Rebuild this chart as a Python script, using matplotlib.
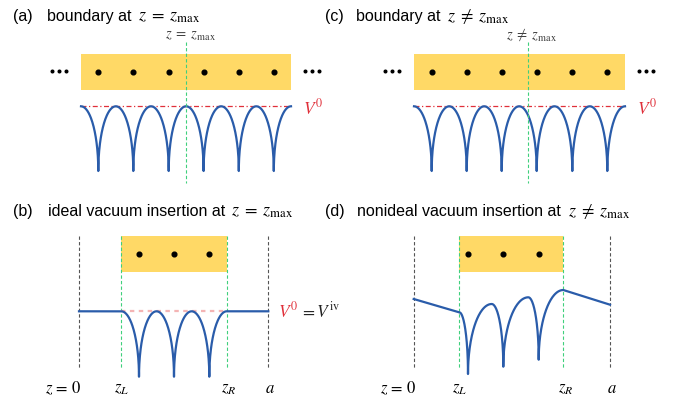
import numpy as np
import matplotlib
matplotlib.use('Agg')
import matplotlib.pyplot as plt
from matplotlib.patches import Rectangle

plt.rcParams['font.family'] = ['Liberation Sans', 'DejaVu Sans']
plt.rcParams['mathtext.fontset'] = 'stix'

# panel (a): periodic slab, boundary at z = zmax
a_slab = [81, 291]
a_atoms = [98.3, 133.3, 168.7, 203.6, 238.8, 273.8]
a_cut = 186.3
# panel (c): periodic slab, boundary elsewhere
c_slab = [414, 625]
c_atoms = [431.7, 466.7, 501.7, 536.7, 572.3, 607.3]
c_cut = 527.7
row1_level = 107.3
row1_bottom = 172.0

# panel (b): ideal vacuum insertion
b_walls = [79, 268.3]          # z = 0, a
b_slab = [121.3, 226.7]        # zL, zR
b_atoms = [139, 174, 209.3]
b_level = 312.3
b_bottom = 377.7

# panel (d): nonideal vacuum insertion
d_walls = [413.7, 610]
d_slab = [459.3, 563.3]
d_atoms = [468, 503.3, 538.7]
d_edge_y = [300, 305.7]               # potential at z = 0 and z = a
d_peak_x = [459.3, 491.7, 528.3, 563.3]
d_peak_y = [313.3, 305, 298.3, 291]
d_cusp_y = [375, 367.7, 360.7]

titles = [('(a)', 'boundary at', r'$z\;=\;z_{\mathrm{max}}$', 13, 47, 137.5, 20.7),
          ('(c)', 'boundary at', r'$z\;\neq\;z_{\mathrm{max}}$', 325, 356, 447, 20.7),
          ('(b)', 'ideal vacuum insertion at', r'$z\;=\;z_{\mathrm{max}}$', 13, 48, 231, 215.7),
          ('(d)', 'nonideal vacuum insertion at', r'$z\;\neq\;z_{\mathrm{max}}$', 325, 357, 568, 215.7)]

blue = '#2a5caa'
yellow = '#ffd966'
green = '#3fd07c'
red = '#e0303a'


def arches(px, py, cx, cy, n=80):
    xs, ys = [], []
    t = np.linspace(0, np.pi / 2, n)
    for i in range(len(cx)):
        xs += list(px[i] + (cx[i] - px[i]) * np.sin(t))
        ys += list(py[i] + (cy[i] - py[i]) * (1 - np.cos(t)))
        xs += list(px[i + 1] + (cx[i] - px[i + 1]) * np.sin(t[::-1]))
        ys += list(py[i + 1] + (cy[i] - py[i + 1]) * (1 - np.cos(t[::-1])))
    return xs, ys


fig = plt.figure(figsize=(6.73, 4.02), dpi=100)
ax = fig.add_axes([0, 0, 1, 1])
ax.set_xlim(0, 673)
ax.set_ylim(402, 0)
ax.axis('off')

for tag, words, math, x_tag, x_words, x_math, y in titles:
    ax.text(x_tag, y, tag, fontsize=11.5, va='baseline', ha='left')
    ax.text(x_words, y, words, fontsize=11.5, va='baseline', ha='left')
    ax.text(x_math, y, math, fontsize=13, va='baseline', ha='left')

# top row
for slab, atoms, cut, lab in [(a_slab, a_atoms, a_cut, r'$z\;=\;z_{\mathrm{max}}$'),
                              (c_slab, c_atoms, c_cut, r'$z\;\neq\;z_{\mathrm{max}}$')]:
    ax.add_patch(Rectangle((slab[0], 55), slab[1] - slab[0], 35.7,
                           facecolor=yellow, edgecolor='none', zorder=1))
    ax.plot(atoms, [72.7] * len(atoms), 'o', color='black', ms=3.4, zorder=3)
    for x0 in [slab[0] - 22, slab[1] + 21]:
        ax.plot([x0 - 7.2, x0, x0 + 7.2], [71.5] * 3, 'o', color='black', ms=1.9, zorder=3)
    mids = [(atoms[i] + atoms[i + 1]) / 2 for i in range(len(atoms) - 1)]
    px = [slab[0]] + mids + [slab[1]]
    xs, ys = arches(px, [row1_level] * len(px), atoms, [row1_bottom] * len(atoms))
    ax.plot(xs, ys, color=blue, lw=1.6, zorder=4)
    ax.plot(slab, [row1_level] * 2, color=red, lw=0.9, ls=(0, (4, 2, 1, 2)), zorder=2)
    ax.plot([cut, cut], [43, 184], color=green, lw=0.8, ls=(0, (3, 2)), zorder=5)
    ax.text(cut + 4, 39, lab, fontsize=10.5, color='#404040', ha='center', va='baseline')
    ax.text(slab[1] + 12, 114, r'$V^0$', fontsize=12.5, color=red, ha='left', va='baseline')

# bottom row
lab_y = 393
for walls, slab, atoms in [(b_walls, b_slab, b_atoms), (d_walls, d_slab, d_atoms)]:
    ax.add_patch(Rectangle((slab[0], 236.7), slab[1] - slab[0], 36,
                           facecolor=yellow, edgecolor='none', zorder=1))
    ax.plot(atoms, [255] * len(atoms), 'o', color='black', ms=3.4, zorder=3)
    for x in walls:
        ax.plot([x, x], [236.7, 370], color='#555555', lw=0.8, ls=(0, (3, 2)), zorder=2)
    for x in slab:
        ax.plot([x, x], [236.7, 370], color=green, lw=0.8, ls=(0, (3, 2)), zorder=2)
    ax.text(walls[0] + 3, lab_y, r'$z\,=\,0$', fontsize=12, ha='right', va='baseline')
    ax.text(slab[0], lab_y, r'$z_L$', fontsize=12, ha='center', va='baseline')
    ax.text(slab[1] + 2, lab_y, r'$z_R$', fontsize=12, ha='center', va='baseline')
    ax.text(walls[1] + 2, lab_y, r'$a$', fontsize=12, ha='center', va='baseline')

# (b) flat vacuum potential
mids = [(b_atoms[i] + b_atoms[i + 1]) / 2 for i in range(len(b_atoms) - 1)]
px = [b_slab[0]] + mids + [b_slab[1]]
xs, ys = arches(px, [b_level] * len(px), b_atoms, [b_bottom] * len(b_atoms))
xs = [b_walls[0]] + xs + [b_walls[1]]
ys = [b_level] + ys + [b_level]
ax.plot(b_slab, [b_level] * 2, color='#f4b4b4', lw=1.6, ls=(0, (2, 2)), zorder=2)
ax.plot(xs, ys, color=blue, lw=1.6, zorder=4)
ax.text(278, 317.3, r'$V^0$', fontsize=12.5, color=red, ha='left', va='baseline')
ax.text(299.5, 317.3, r'$=V^{\mathrm{iv}}$', fontsize=12.5, color='#222222', ha='left', va='baseline')

# (d) sloped vacuum potential
xs, ys = arches(d_peak_x, d_peak_y, d_atoms, d_cusp_y)
xs = [d_walls[0]] + xs + [d_walls[1]]
ys = [d_edge_y[0]] + ys + [d_edge_y[1]]
ax.plot(xs, ys, color=blue, lw=1.6, zorder=4)

fig.savefig('out.png', dpi=100)
